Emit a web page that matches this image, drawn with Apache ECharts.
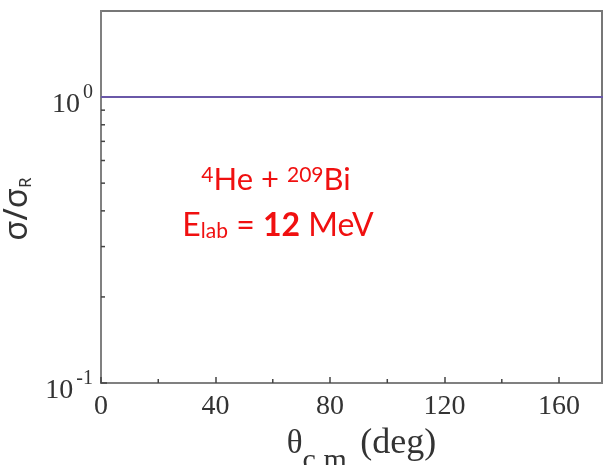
<!DOCTYPE html>
<html>
<head>
<meta charset="utf-8">
<script src="https://cdn.jsdelivr.net/npm/echarts@6/dist/echarts.min.js"></script>
<style>
  html, body { margin: 0; padding: 0; background: #fff; }
  #chart { width: 604px; height: 465px; }
</style>
</head>
<body>
<div id="chart"></div>
<script>
// angle in the c.m. frame (deg) and sigma / sigma_Rutherford
const angles = [0, 180];
const ratio = [1, 1];

const xMajorTicks = [0, 40, 80, 120, 160];
const xMinorTicks = [20, 60, 100, 140];
const yMinorTicks = [0.2, 0.3, 0.4, 0.5, 0.6, 0.7, 0.8, 0.9];

const serif = "'Liberation Serif', 'DejaVu Serif', serif";
const red = "#f01010";

const chart = echarts.init(document.getElementById("chart"));

const tickRender = (horizontal) => (params, api) => {
    const p = api.coord([api.value(0), api.value(1)]);
    const end = horizontal ? [p[0] + 4, p[1]] : [p[0], p[1] - 4];
    return {
        type: "line",
        shape: { x1: p[0], y1: p[1], x2: end[0], y2: end[1] },
        style: { stroke: "#444", lineWidth: 1.5 },
        silent: true,
    };
};

const option = {
    animation: false,
    grid: {
        left: 101, right: 2, top: 11, bottom: 82,
        outerBoundsMode: "none",
        containLabel: false,
        show: true, borderColor: "#777", borderWidth: 2,
    },
    xAxis: {
        type: "value",
        min: 0,
        max: 175,
        interval: 40,
        splitLine: { show: false },
        axisLine: { lineStyle: { color: "#808080", width: 2 } },
        axisTick: { inside: true, length: 6, lineStyle: { color: "#444", width: 1.5 } },
        axisLabel: {
            margin: 10,
            color: "#333",
            fontFamily: serif,
            fontSize: 28,
            showMaxLabel: false,
            formatter: (v) => (xMajorTicks.includes(v) ? String(v) : ""),
        },
        name: "{t|θ}{s|c.m.}{n|(deg)}",
        nameLocation: "middle",
        nameGap: 31,
        nameTextStyle: {
            align: "center",
            verticalAlign: "top",
            padding: [0, 0, 0, 20],
            rich: {
                t: { fontFamily: serif, fontSize: 33, color: "#333", verticalAlign: "middle" },
                s: { fontFamily: serif, fontSize: 30, color: "#333", verticalAlign: "bottom", padding: [0, 6, -14, 0] },
                n: { fontFamily: serif, fontSize: 36, color: "#333", verticalAlign: "middle" },
            },
        },
    },
    yAxis: {
        type: "log",
        logBase: 10,
        min: 0.1,
        max: 2,
        splitLine: { show: false },
        axisLine: { lineStyle: { color: "#808080", width: 2 } },
        axisTick: { inside: true, length: 6, lineStyle: { color: "#444", width: 1.5 } },
        axisLabel: {
            margin: 8,
            padding: [8, 0, 0, 0],
            showMaxLabel: false,
            formatter: (v) => {
                const e = Math.round(Math.log10(v));
                if (Math.abs(Math.log10(v) - e) > 1e-6) return "";
                return "{b|10}{e|" + e + "}";
            },
            rich: {
                b: { fontFamily: serif, fontSize: 28, color: "#333", verticalAlign: "bottom", padding: [0, 3, 0, 0] },
                e: { fontFamily: serif, fontSize: 20, color: "#333", verticalAlign: "top", lineHeight: 36 },
            },
        },
        name: "{m|σ/σ}{r|R}",
        nameLocation: "middle",
        nameRotate: 90,
        nameGap: 55,
        nameTextStyle: {
            padding: [0, 24, 0, 0],
            rich: {
                m: { fontFamily: "'Noto Sans', sans-serif", fontSize: 33, color: "#333", verticalAlign: "middle" },
                r: { fontFamily: "'Noto Sans', sans-serif", fontSize: 17, color: "#333", verticalAlign: "bottom" },
            },
        },
    },
    graphic: [
        {
            type: "text",
            x: 276,
            y: 180,
            style: {
                text: "{s|4}{n|He + }{s|209}{n|Bi}",
                align: "center",
                verticalAlign: "middle",
                rich: {
                    s: { fontFamily: "Lato, sans-serif", fontSize: 21, fill: red, verticalAlign: "top" },
                    n: { fontFamily: "Lato, sans-serif", fontSize: 31, fill: red, verticalAlign: "bottom" },
                },
            },
        },
        {
            type: "text",
            x: 278,
            y: 226,
            style: {
                text: "{n|E}{l|lab}{n| = }{b|12}{n| MeV}",
                align: "center",
                verticalAlign: "middle",
                rich: {
                    n: { fontFamily: "Lato, sans-serif", fontSize: 32, fill: red, verticalAlign: "top" },
                    l: { fontFamily: "Lato, sans-serif", fontSize: 21, fill: red, verticalAlign: "bottom" },
                    b: { fontFamily: "Lato, sans-serif", fontSize: 32, fontWeight: "bold", fill: red, verticalAlign: "top" },
                },
            },
        },
    ],
    series: [
        {
            type: "line",
            data: angles.map((a, i) => [a, ratio[i]]),
            showSymbol: false,
            clip: true,
            lineStyle: { color: "#6a58a8", width: 2 },
            silent: true,
        },
        {
            type: "custom",
            data: yMinorTicks.map((v) => [0, v]),
            renderItem: tickRender(true),
            clip: false,
            silent: true,
        },
        {
            type: "custom",
            data: xMinorTicks.map((v) => [v, 0.1]),
            renderItem: tickRender(false),
            clip: false,
            silent: true,
        },
    ],
};

chart.setOption(option);
</script>
</body>
</html>
